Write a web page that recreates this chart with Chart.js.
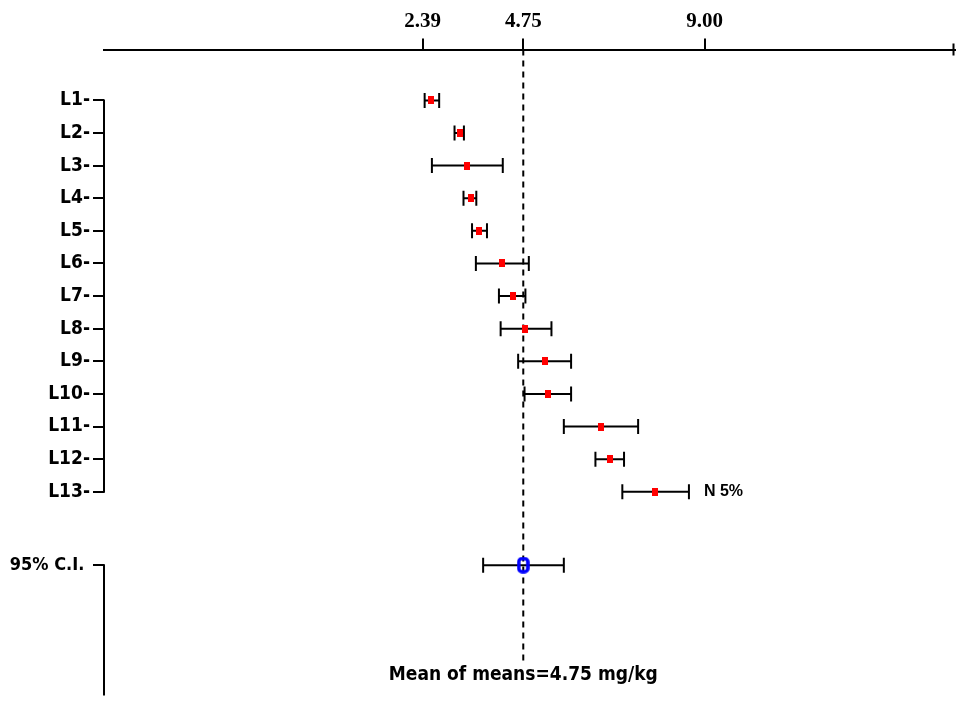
<!DOCTYPE html>
<html>
<head>
<meta charset="utf-8">
<title>Mean of means</title>
<script src="https://cdn.jsdelivr.net/npm/chart.js@4.4.1/dist/chart.umd.min.js"></script>
<style>
  html, body { margin: 0; padding: 0; background: #fff; overflow: hidden; }
  canvas { display: block; }
</style>
</head>
<body>
<canvas id="forest" width="964" height="710"></canvas>
<script>
// values (mg/kg)
const rowLabels = ['L1', 'L2', 'L3', 'L4', 'L5', 'L6', 'L7', 'L8', 'L9', 'L10', 'L11', 'L12', 'L13'];
const means = [2.60, 3.27, 3.43, 3.52, 3.71, 4.25, 4.50, 4.78, 5.25, 5.33, 6.57, 6.77, 7.84];
const lows  = [2.44, 3.14, 2.61, 3.35, 3.55, 3.64, 4.18, 4.22, 4.63, 4.78, 5.70, 6.44, 7.07];
const highs = [2.78, 3.36, 4.27, 3.65, 3.90, 4.88, 4.80, 5.41, 5.87, 5.87, 7.44, 7.11, 8.63];

const ciLabel = '95% C.I.';
const ciMean = 4.75;
const ciLow = 3.81;
const ciHigh = 5.70;
const ciRow = 15.25;

const meanOfMeans = 4.75;
const xTicks = [2.39, 4.75, 9.00];
const xMin = -5.07;
const xMax = 14.85;

const noteText = 'N 5%';
const noteRow = 13;

const narrow = "'DejaVu Sans Condensed', 'Liberation Sans Narrow', sans-serif";

/* ---- marker images ---- */
const makeMarker = (w, h, draw) => {
  const c = document.createElement('canvas');
  c.width = w;
  c.height = h;
  draw(c.getContext('2d'));
  return c;
};
const redMark = makeMarker(6, 8, (ctx) => {
  ctx.fillStyle = '#ff0000';
  ctx.fillRect(0, 0, 6, 8);
});
const blueMark = makeMarker(13, 17, (ctx) => {
  ctx.strokeStyle = '#0000ff';
  ctx.lineWidth = 3.5;
  ctx.beginPath();
  ctx.roundRect(2, 2, 9, 13, 3);
  ctx.stroke();
});

/* ---- whisker segments: low/high pairs split by gaps ---- */
const whiskerPoints = [];
rowLabels.forEach((_, i) => {
  whiskerPoints.push({ x: lows[i], y: i + 1 }, { x: highs[i], y: i + 1 }, { x: null, y: null });
});
whiskerPoints.push({ x: ciLow, y: ciRow }, { x: ciHigh, y: ciRow });

/* ---- extra drawing: split left axis, dashed mean line, labels ---- */
const forestExtras = {
  id: 'forestExtras',
  beforeDatasetsDraw(chart) {
    const { ctx, chartArea, scales: { x, y } } = chart;
    const mx = x.getPixelForValue(meanOfMeans);
    ctx.save();
    ctx.strokeStyle = '#000';
    ctx.lineWidth = 2;
    ctx.setLineDash([6, 5]);
    ctx.beginPath();
    ctx.moveTo(mx, chartArea.top);
    ctx.lineTo(mx, chartArea.bottom - 35);
    ctx.stroke();
    ctx.setLineDash([]);

    const ax = chartArea.left;
    ctx.beginPath();
    ctx.moveTo(ax, y.getPixelForValue(1) - 1);
    ctx.lineTo(ax, y.getPixelForValue(rowLabels.length) + 1);
    ctx.moveTo(ax, y.getPixelForValue(ciRow) - 1);
    ctx.lineTo(ax, chartArea.bottom);
    // little end cap on the top axis
    ctx.moveTo(chartArea.right - 1, chartArea.top - 6);
    ctx.lineTo(chartArea.right - 1, chartArea.top + 6);
    ctx.stroke();
    ctx.restore();
  },
  afterDatasetsDraw(chart) {
    const { ctx, chartArea, scales: { x, y } } = chart;
    ctx.save();
    ctx.fillStyle = '#000';

    ctx.font = `bold 19px ${narrow}`;
    ctx.textAlign = 'center';
    ctx.textBaseline = 'alphabetic';
    ctx.fillText(`Mean of means=${meanOfMeans.toFixed(2)} mg/kg`, x.getPixelForValue(meanOfMeans), chartArea.bottom - 16);

    ctx.font = "bold 16px 'Liberation Sans', Arial, sans-serif";
    ctx.textAlign = 'left';
    ctx.textBaseline = 'middle';
    ctx.fillText(noteText, x.getPixelForValue(highs[noteRow - 1]) + 15, y.getPixelForValue(noteRow));
    ctx.restore();
  }
};

new Chart(document.getElementById('forest'), {
  type: 'line',
  data: {
    datasets: [
      {
        label: 'range',
        data: whiskerPoints,
        borderColor: '#000',
        borderWidth: 2,
        spanGaps: false,
        pointStyle: 'line',
        pointRotation: 90,
        pointRadius: 7.5,
        pointBorderWidth: 2,
        pointBorderColor: '#000',
        order: 3
      },
      {
        label: 'mean',
        data: rowLabels.map((_, i) => ({ x: means[i], y: i + 1 })),
        showLine: false,
        pointStyle: redMark,
        order: 2
      },
      {
        label: ciLabel,
        data: [{ x: ciMean, y: ciRow }],
        showLine: false,
        pointStyle: blueMark,
        order: 1
      }
    ]
  },
  options: {
    responsive: false,
    animation: false,
    devicePixelRatio: 1,
    layout: { padding: { left: 0, right: 3, top: 0, bottom: 0 } },
    plugins: { legend: { display: false }, tooltip: { enabled: false } },
    scales: {
      x: {
        type: 'linear',
        position: 'top',
        min: xMin,
        max: xMax,
        afterFit: (scale) => { scale.height = 49.5; },
        afterBuildTicks: (scale) => { scale.ticks = xTicks.map((v) => ({ value: v })); },
        grid: { drawOnChartArea: false, drawTicks: true, tickLength: 11, color: '#000', lineWidth: 2 },
        border: { display: true, color: '#000', width: 2 },
        ticks: {
          autoSkip: false,
          maxRotation: 0,
          padding: 4,
          color: '#000',
          font: { family: "'Liberation Serif', 'Times New Roman', serif", size: 21, weight: 'bold' },
          callback: (v) => Number(v).toFixed(2)
        }
      },
      y: {
        type: 'linear',
        reverse: true,
        min: -0.56,
        max: 19.25,
        afterFit: (scale) => { scale.width = 104; },
        afterBuildTicks: (scale) => {
          scale.ticks = rowLabels.map((_, i) => ({ value: i + 1 })).concat([{ value: ciRow }]);
        },
        grid: { drawOnChartArea: false, drawTicks: true, tickLength: 11, color: '#000', lineWidth: 2 },
        border: { display: false },
        ticks: {
          autoSkip: false,
          padding: 3,
          color: '#000',
          font: (c) => ({ family: narrow, size: c.index < rowLabels.length ? 19 : 18, weight: 'bold' }),
          callback: (v, i) => (i < rowLabels.length ? rowLabels[i] + '-' : ciLabel + ' ')
        }
      }
    }
  },
  plugins: [forestExtras]
});
</script>
</body>
</html>
